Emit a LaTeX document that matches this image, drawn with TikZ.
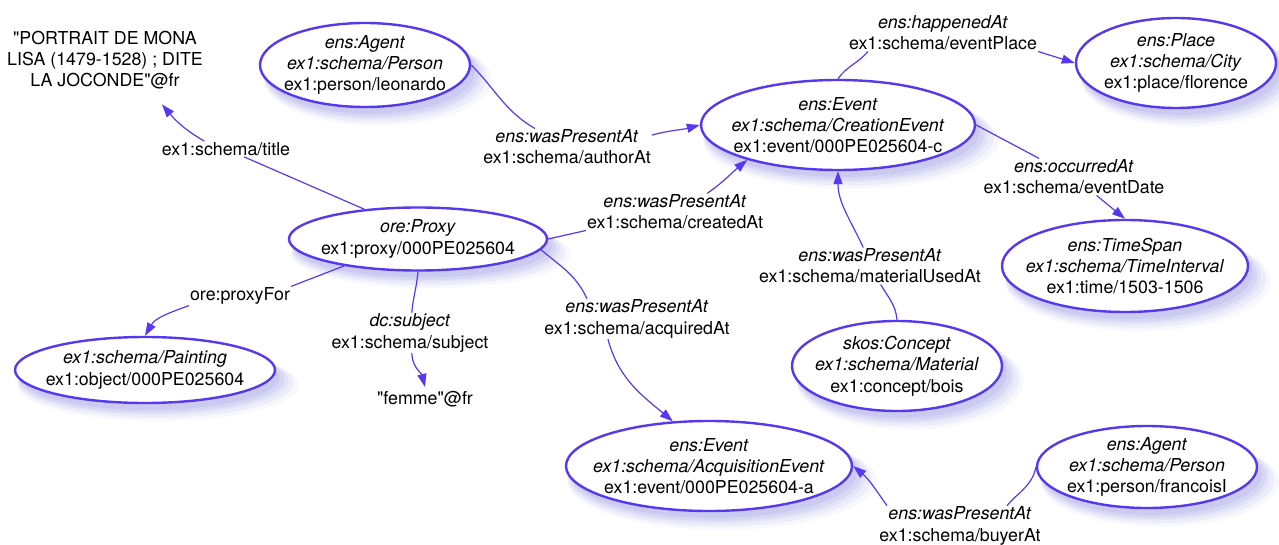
\documentclass[tikz,border=0pt]{standalone}
\usepackage{fontspec}
\setmainfont{TeX Gyre Heros}[Ligatures=TeXOff]
\usetikzlibrary{shapes.geometric,arrows.meta,shadows}
\definecolor{rdfblue}{HTML}{5638F0}
\definecolor{rdfshade}{HTML}{6F6FD8}
\newcommand{\RdfTextSize}{\fontsize{17.8}{21.3}\selectfont}

\begin{document}
\begin{tikzpicture}[x=1pt, y=1pt,
		every node/.style={font=\RdfTextSize},
		shade/.style={
			general shadow={fill=rdfshade, opacity=.06, shadow xshift=12pt, shadow yshift=-14pt, shadow scale=1.08},
			general shadow={fill=rdfshade, opacity=.07, shadow xshift=10pt, shadow yshift=-12pt, shadow scale=1.06},
			general shadow={fill=rdfshade, opacity=.08, shadow xshift=8pt, shadow yshift=-10pt, shadow scale=1.04},
			general shadow={fill=rdfshade, opacity=.10, shadow xshift=7pt, shadow yshift=-9pt, shadow scale=1.02},
			general shadow={fill=rdfshade, opacity=.12, shadow xshift=5pt, shadow yshift=-7pt, shadow scale=1.0}},
		ent/.style 2 args={ellipse, draw=rdfblue, line width=2.4pt, fill=white, align=center, inner sep=-20pt,
			minimum width=#1pt, minimum height=#2pt, shade},
		lbl/.style={align=center, inner sep=1pt},
		link/.style={draw=rdfblue, line width=1.2pt},
		arr/.style={link, -{Triangle[length=13pt, width=9pt]}},
	]
		\useasboundingbox (0,0) rectangle (1279,-545);
		% resources
		\node[ent={258}{63}] (proxy) at (418,-239) {\textit{ore:Proxy}\\ex1:proxy/000PE025604};
		\node[ent={260}{66}] (painting) at (145,-370) {\textit{ex1:schema/Painting}\\ex1:object/000PE025604};
		\node[ent={210}{84}] (leonardo) at (365,-65) {\textit{ens:Agent}\\\textit{ex1:schema/Person}\\ex1:person/leonardo};
		\node[ent={274}{90}] (creation) at (838,-125) {\textit{ens:Event}\\\textit{ex1:schema/CreationEvent}\\ex1:event/000PE025604-c};
		\node[ent={200}{90}] (place) at (1176,-63) {\textit{ens:Place}\\\textit{ex1:schema/City}\\ex1:place/florence};
		\node[ent={246}{92}] (timespan) at (1125,-266) {\textit{ens:TimeSpan}\\\textit{ex1:schema/TimeInterval}\\ex1:time/1503-1506};
		\node[ent={210}{90}] (concept) at (897,-366) {\textit{skos:Concept}\\\textit{ex1:schema/Material}\\ex1:concept/bois};
		\node[ent={286}{90}] (acquisition) at (709,-466) {\textit{ens:Event}\\\textit{ex1:schema/AcquisitionEvent}\\ex1:event/000PE025604-a};
		\node[ent={220}{82}] (francois) at (1147,-467) {\textit{ens:Agent}\\\textit{ex1:schema/Person}\\ex1:person/francoisI};
		% literals
		\node[lbl, inner sep=2pt] (title) at (105,-60) {"PORTRAIT DE MONA\\LISA (1479-1528) ; DITE\\LA JOCONDE"@fr};
		\node[lbl, inner sep=4pt] (femme) at (425,-399) {"femme"@fr};
		% property labels
		\node[lbl] (t-title) at (226,-149) {ex1:schema/title};
		\node[lbl] (t-proxyfor) at (240,-296) {ore:proxyFor};
		\node[lbl] (t-subject) at (410,-333) {\textit{dc:subject}\\ex1:schema/subject};
		\node[lbl] (t-author) at (567,-147) {\textit{ens:wasPresentAt}\\ex1:schema/authorAt};
		\node[lbl] (t-created) at (675,-212) {\textit{ens:wasPresentAt}\\ex1:schema/createdAt};
		\node[lbl] (t-place) at (943,-33) {\textit{ens:happenedAt}\\ex1:schema/eventPlace};
		\node[lbl] (t-date) at (1074,-177) {\textit{ens:occurredAt}\\ex1:schema/eventDate};
		\node[lbl] (t-material) at (870,-266) {\textit{ens:wasPresentAt}\\ex1:schema/materialUsedAt};
		\node[lbl] (t-acquired) at (637,-319) {\textit{ens:wasPresentAt}\\ex1:schema/acquiredAt};
		\node[lbl] (t-buyer) at (960,-526) {\textit{ens:wasPresentAt}\\ex1:schema/buyerAt};
		% left side
		\draw[link] (proxy.151) -- (t-title);
		\draw[arr] (t-title.160) to[out=150, in=-50] ([xshift=57pt, yshift=-13pt]title.south);
		\draw[link] (proxy.-160) -- (t-proxyfor.north east);
		\draw[arr] (t-proxyfor.south west) to[out=-160, in=60] (painting.north);
		\draw[link] (proxy.south) to[out=-95, in=85] (t-subject);
		\draw[arr] (t-subject.-85) to[out=-88, in=104] (femme.north);
		% top
		\draw[link] (leonardo.east) to[out=-45, in=150] (t-author);
		\draw[arr] (t-author.8) to[out=15, in=195] (creation.west);
		\draw[link] (proxy.east) -- (t-created.south west);
		\draw[arr] (t-created.30) to[out=35, in=-140] (creation.-159);
		\draw[link] (creation.north) to[out=55, in=-130] ([xshift=20pt]t-place.south west);
		\draw[arr] (t-place.south east) -- (place.west);
		\draw[link] (creation.east) -- (t-date);
		\draw[arr] (t-date) -- (timespan.north);
		% bottom
		\draw[link] (concept.north) to[out=95, in=-60] (t-material);
		\draw[arr] (t-material.110) to[out=115, in=-90] (creation.south);
		\draw[link] (proxy.-5) to[out=-40, in=115] ([xshift=-50pt]t-acquired.north);
		\draw[arr] ([xshift=-29pt]t-acquired.south) to[out=-75, in=140] (acquisition.129);
		\draw[link] (francois.west) to[out=-100, in=50] ([xshift=47pt]t-buyer.north);
		\draw[arr] ([xshift=-73pt]t-buyer.north) to[out=125, in=-40] (acquisition.east);
\end{tikzpicture}
\end{document}
